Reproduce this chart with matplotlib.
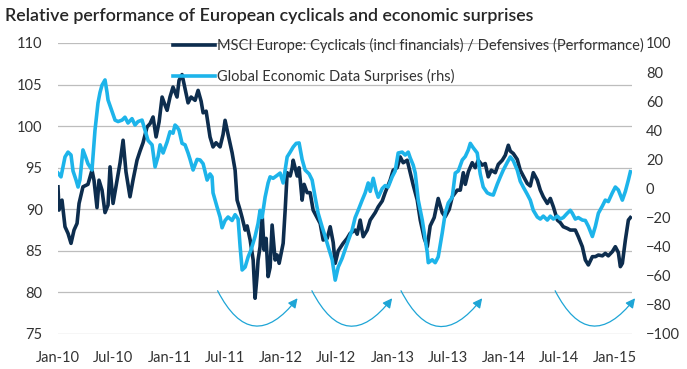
import numpy as np
import pandas as pd
import matplotlib

matplotlib.use("Agg")
import matplotlib.pyplot as plt
import matplotlib.dates as mdates

# ------------------------------------------------------------
# data (time in decimal years)
# ------------------------------------------------------------

msci_t = [
    2010.000, 2010.009, 2010.036, 2010.063, 2010.090, 2010.117, 2010.144, 2010.171,
    2010.189, 2010.224, 2010.269, 2010.305, 2010.323, 2010.350, 2010.368, 2010.395,
    2010.422, 2010.449, 2010.467, 2010.494, 2010.530, 2010.557, 2010.584, 2010.610,
    2010.646, 2010.673, 2010.709, 2010.736, 2010.763, 2010.799, 2010.826, 2010.853,
    2010.880, 2010.907, 2010.934, 2010.961, 2010.979, 2011.005, 2011.032, 2011.068,
    2011.086, 2011.113, 2011.140, 2011.167, 2011.194, 2011.230, 2011.257, 2011.284,
    2011.302, 2011.329, 2011.364, 2011.391, 2011.418, 2011.454, 2011.481, 2011.499,
    2011.526, 2011.562, 2011.589, 2011.607, 2011.634, 2011.652, 2011.679, 2011.697,
    2011.724, 2011.751, 2011.768, 2011.786, 2011.795, 2011.813, 2011.831, 2011.849,
    2011.867, 2011.885, 2011.903, 2011.921, 2011.948, 2011.966, 2011.984, 2012.020,
    2012.038, 2012.056, 2012.083, 2012.101, 2012.110, 2012.146, 2012.163, 2012.190,
    2012.208, 2012.235, 2012.262, 2012.289, 2012.325, 2012.352, 2012.379, 2012.415,
    2012.442, 2012.469, 2012.487, 2012.514, 2012.558, 2012.594, 2012.621, 2012.666,
    2012.684, 2012.711, 2012.738, 2012.774, 2012.801, 2012.846, 2012.873, 2012.909,
    2012.935, 2012.980, 2013.007, 2013.043, 2013.070, 2013.097, 2013.133, 2013.160,
    2013.187, 2013.223, 2013.250, 2013.286, 2013.313, 2013.339, 2013.375, 2013.411,
    2013.447, 2013.474, 2013.510, 2013.537, 2013.582, 2013.609, 2013.636, 2013.654,
    2013.681, 2013.716, 2013.743, 2013.770, 2013.806, 2013.833, 2013.860, 2013.887,
    2013.923, 2013.950, 2013.986, 2014.013, 2014.040, 2014.058, 2014.085, 2014.120,
    2014.147, 2014.174, 2014.210, 2014.237, 2014.264, 2014.300, 2014.327, 2014.354,
    2014.390, 2014.417, 2014.444, 2014.480, 2014.506, 2014.533, 2014.569, 2014.596,
    2014.641, 2014.668, 2014.704, 2014.731, 2014.758, 2014.794, 2014.821, 2014.848,
    2014.884, 2014.910, 2014.937, 2014.973, 2015.000, 2015.027, 2015.045, 2015.063,
    2015.090, 2015.117, 2015.135,
]
msci = [
    92.7, 89.9, 91.1, 87.9, 87.1, 85.9, 87.5, 88.3,
    90.7, 92.7, 93.0, 94.7, 93.5, 90.2, 93.5, 92.3,
    89.6, 90.5, 95.1, 90.7, 93.5, 95.6, 98.3, 94.5,
    91.5, 93.5, 95.9, 97.0, 98.0, 99.9, 100.3, 101.1,
    98.7, 100.5, 103.5, 102.5, 101.9, 103.5, 104.7, 103.5,
    105.5, 106.2, 104.5, 102.8, 103.5, 103.1, 104.3, 103.0,
    101.6, 101.8, 98.7, 97.5, 98.0, 97.5, 99.0, 100.7,
    99.0, 96.8, 94.7, 91.1, 89.9, 89.0, 87.5, 88.0,
    86.3, 83.9, 79.3, 82.0, 83.9, 85.5, 89.5, 85.1,
    86.5, 81.9, 83.0, 88.1, 83.9, 84.5, 83.5, 85.9,
    89.9, 94.4, 94.0, 95.0, 95.9, 94.0, 95.0, 91.1,
    93.0, 92.0, 92.0, 89.9, 89.0, 88.3, 86.3, 86.5,
    87.9, 86.0, 83.5, 85.0, 85.9, 86.5, 87.1, 87.5,
    87.0, 88.7, 86.7, 87.5, 88.7, 89.6, 90.3, 91.0,
    92.0, 93.5, 94.7, 95.0, 96.3, 95.6, 95.9, 94.4,
    92.9, 91.1, 88.7, 86.5, 85.5, 88.0, 89.0, 91.3,
    89.6, 89.1, 90.0, 91.5, 92.3, 92.3, 94.4, 93.0,
    94.5, 95.6, 95.0, 95.9, 95.3, 95.5, 93.9, 94.7,
    94.4, 95.4, 95.9, 96.5, 97.7, 97.0, 96.7, 96.0,
    94.7, 94.0, 93.1, 92.8, 94.4, 93.5, 92.3, 91.5,
    90.7, 91.3, 90.3, 88.7, 88.4, 87.9, 87.7, 87.5,
    87.5, 86.7, 85.5, 83.9, 83.3, 84.3, 84.3, 84.5,
    84.4, 84.7, 84.4, 84.9, 85.5, 84.8, 83.1, 83.5,
    86.3, 88.7, 89.0,
]

cesi_t = [
    2010.000, 2010.027, 2010.063, 2010.090, 2010.117, 2010.135, 2010.162, 2010.180,
    2010.197, 2010.224, 2010.251, 2010.269, 2010.305, 2010.314, 2010.332, 2010.359,
    2010.377, 2010.395, 2010.422, 2010.440, 2010.449, 2010.485, 2010.512, 2010.539,
    2010.575, 2010.601, 2010.628, 2010.664, 2010.691, 2010.718, 2010.754, 2010.781,
    2010.808, 2010.844, 2010.871, 2010.898, 2010.916, 2010.943, 2010.979, 2011.005,
    2011.032, 2011.050, 2011.068, 2011.086, 2011.113, 2011.140, 2011.167, 2011.185,
    2011.212, 2011.248, 2011.275, 2011.302, 2011.338, 2011.364, 2011.382, 2011.391,
    2011.427, 2011.454, 2011.472, 2011.499, 2011.526, 2011.562, 2011.589, 2011.616,
    2011.634, 2011.652, 2011.679, 2011.706, 2011.733, 2011.768, 2011.795, 2011.813,
    2011.831, 2011.858, 2011.885, 2011.903, 2011.930, 2011.966, 2011.993, 2012.020,
    2012.056, 2012.083, 2012.110, 2012.137, 2012.163, 2012.190, 2012.217, 2012.253,
    2012.280, 2012.307, 2012.334, 2012.370, 2012.397, 2012.424, 2012.460, 2012.487,
    2012.514, 2012.549, 2012.576, 2012.603, 2012.639, 2012.666, 2012.693, 2012.729,
    2012.756, 2012.783, 2012.801, 2012.828, 2012.855, 2012.873, 2012.909, 2012.935,
    2012.962, 2012.998, 2013.025, 2013.052, 2013.088, 2013.115, 2013.142, 2013.160,
    2013.187, 2013.205, 2013.232, 2013.268, 2013.295, 2013.313, 2013.322, 2013.357,
    2013.384, 2013.411, 2013.447, 2013.474, 2013.501, 2013.537, 2013.564, 2013.591,
    2013.627, 2013.654, 2013.681, 2013.699, 2013.725, 2013.761, 2013.788, 2013.815,
    2013.851, 2013.878, 2013.905, 2013.941, 2013.968, 2013.995, 2014.031, 2014.058,
    2014.085, 2014.120, 2014.147, 2014.174, 2014.210, 2014.237, 2014.264, 2014.300,
    2014.327, 2014.354, 2014.390, 2014.417, 2014.444, 2014.480, 2014.506, 2014.533,
    2014.569, 2014.596, 2014.614, 2014.641, 2014.668, 2014.704, 2014.731, 2014.758,
    2014.794, 2014.821, 2014.848, 2014.884, 2014.910, 2014.937, 2014.973, 2015.000,
    2015.027, 2015.063, 2015.090, 2015.117, 2015.135,
]
cesi = [
    10.6, 8.0, 21.7, 25.0, 23.0, 12.0, 5.8, 1.0,
    6.0, 26.5, 21.0, 17.0, 12.7, 22.0, 40.0, 58.8,
    66.0, 71.0, 74.6, 66.0, 60.8, 53.0, 47.0, 46.0,
    47.0, 49.0, 45.0, 48.0, 43.6, 46.0, 47.0, 40.0,
    33.0, 30.0, 14.8, 22.0, 30.0, 24.4, 32.0, 39.0,
    38.0, 43.6, 42.3, 40.0, 31.0, 30.0, 24.4, 20.0,
    12.7, 20.0, 19.6, 17.0, 5.8, 10.0, 8.0, -3.0,
    -12.7, -19.6, -27.0, -22.0, -19.6, -22.0, -18.0, -21.0,
    -40.0, -56.0, -54.0, -47.0, -42.0, -33.0, -24.0, -15.0,
    -20.0, -6.0, 3.8, 8.0, 7.0, 9.0, 10.6, 3.8,
    21.7, 25.0, 28.5, 31.0, 31.3, 20.0, 12.7, 10.0,
    5.8, -6.0, -17.0, -26.5, -33.0, -40.0, -49.0, -63.0,
    -54.0, -48.0, -42.0, -36.0, -28.5, -20.0, -15.0, -8.0,
    -3.0, 3.8, -2.0, 7.0, -2.0, -6.0, 0.0, 2.0,
    1.0, 8.0, 12.0, 24.4, 25.0, 23.0, 25.0, 21.0,
    16.0, 10.6, -8.0, -21.7, -35.0, -44.0, -51.0, -49.0,
    -51.0, -47.0, -30.6, -17.0, -10.0, -6.0, 10.6, 12.0,
    19.6, 22.0, 26.5, 31.0, 28.0, 24.4, 10.0, 1.0,
    -3.0, -4.0, -4.5, 3.0, 8.0, 12.7, 18.0, 21.7,
    19.0, 12.7, 5.0, 1.0, -4.0, -8.0, -15.0, -19.6,
    -21.0, -19.0, -21.7, -19.0, -21.0, -19.0, -21.0, -20.0,
    -17.0, -15.0, -17.0, -21.0, -20.0, -21.7, -22.0, -26.0,
    -33.0, -26.0, -17.0, -12.0, -8.0, -9.0, -3.0, 1.0,
    -1.0, -8.0, -2.0, 5.8, 11.5,
]

# annotation arrows (start date, end date)
arrow_spans = [
    ("2011-06-08", "2012-02-25"),
    ("2012-04-12", "2012-12-31"),
    ("2013-01-29", "2013-10-22"),
    ("2014-06-18", "2015-03-07"),
]
arrow_y0, arrow_y1 = 80.2, 79.3

title = "Relative performance of European cyclicals and economic surprises"
msci_label = "MSCI Europe: Cyclicals (incl financials) / Defensives (Performance)"
cesi_label = "Global Economic Data Surprises (rhs)"

dark = "#0d2d4e"
light = "#1db4ea"
txt = "#333333"


def to_dates(t):
    t = np.asarray(t, dtype=float)
    return pd.Timestamp("2010-01-01") + pd.to_timedelta((t - 2010.0) * 365.25, unit="D")


plt.rcParams["font.family"] = ["Lato", "DejaVu Sans"]

fig = plt.figure(figsize=(6.87, 3.69), dpi=100)
ax = fig.add_axes([0.0844, 0.0949, 0.8356, 0.7886])
ax2 = ax.twinx()

l1, = ax.plot(to_dates(msci_t), msci, color=dark, lw=2.6, label=msci_label, zorder=3)
l2, = ax2.plot(to_dates(cesi_t), cesi, color=light, lw=2.6, label=cesi_label, zorder=3)

ax.set_xlim(pd.Timestamp("2010-01-01"), pd.Timestamp("2015-02-25"))
ax.set_ylim(75, 110)
ax2.set_ylim(-100, 100)
ax.set_yticks(np.arange(75, 111, 5))
ax2.set_yticks(np.arange(-100, 101, 20))

ax.xaxis.set_major_locator(mdates.MonthLocator(bymonth=[1, 7]))
ax.xaxis.set_major_formatter(mdates.DateFormatter("%b-%y"))

ax.yaxis.grid(True, color="#bdbdbd", lw=0.9)
ax.set_axisbelow(True)
for a in (ax, ax2):
    for s in a.spines.values():
        s.set_visible(False)
    a.tick_params(length=0, labelsize=10.5, colors=txt)
ax.tick_params(axis="y", pad=11)
ax2.tick_params(axis="y", pad=10)
ax.tick_params(axis="x", pad=12)

for start, end in arrow_spans:
    ax.annotate(
        "",
        xy=(pd.Timestamp(end), arrow_y1),
        xytext=(pd.Timestamp(start), arrow_y0),
        arrowprops=dict(
            arrowstyle="-|>",
            connectionstyle="arc3,rad=0.78",
            color="#1ea5d6",
            lw=0.9,
            mutation_scale=14,
            shrinkA=0,
            shrinkB=0,
        ),
        annotation_clip=False,
    )

ax2.legend(
    [l1, l2],
    [msci_label, cesi_label],
    loc="upper left",
    bbox_to_anchor=(173 / 687, 1 - 38 / 369),
    bbox_transform=fig.transFigure,
    frameon=False,
    fontsize=10.5,
    handlelength=2.9,
    handletextpad=0.15,
    labelspacing=1.1,
    borderpad=0,
    borderaxespad=0,
    labelcolor=txt,
)

fig.text(0.008, 1 - 16 / 369, title, fontsize=12.9, color="#262626",
         fontweight="semibold", va="center", ha="left")

fig.savefig("out.png", dpi=100)
